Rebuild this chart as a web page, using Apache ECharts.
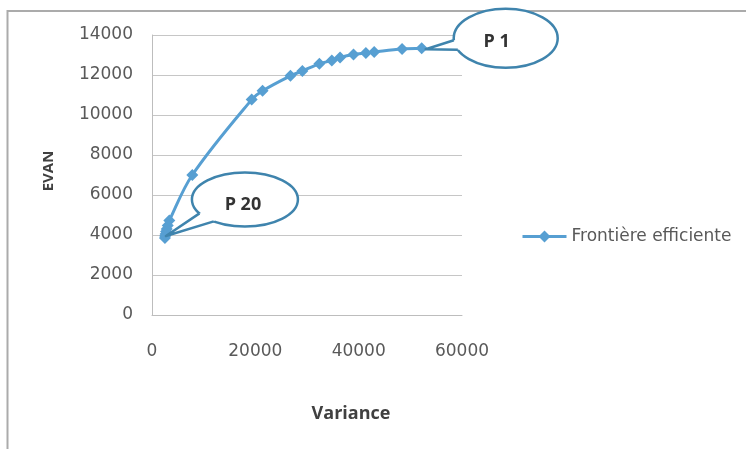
<!DOCTYPE html>
<html>
<head>
<meta charset="utf-8">
<script src="https://cdn.jsdelivr.net/npm/echarts@6/dist/echarts.min.js"></script>
<style>
  html, body { margin: 0; padding: 0; background: #ffffff; }
  #chart { width: 746px; height: 449px; }
</style>
</head>
<body>
<div id="chart"></div>
<script>
// Efficient frontier: portfolios P 1 (highest variance) down to P 20 (minimum variance)
const variance = [52200, 48400, 43000, 41400, 39000, 36400, 34800, 32400, 29100, 26800,
                  21400, 19300, 7800, 3350, 3050, 2850, 2720, 2620, 2550, 2500];
const evan     = [13340, 13300, 13150, 13100, 13030, 12880, 12730, 12560, 12200, 11960,
                  11210, 10770, 7000, 4720, 4480, 4300, 4170, 4050, 3950, 3850];

const seriesName = 'Frontière efficiente';
const xTitle = 'Variance';
const yTitle = 'EVAN';
const xTicks = [0, 20000, 40000, 60000];
const yTicks = [0, 2000, 4000, 6000, 8000, 10000, 12000, 14000];

// Callout labels and the index of the portfolio each one points at
const calloutLabels = ['P 1', 'P 20'];
const calloutIndex = [0, 19];

const lineColor = '#579fd2';
const calloutColor = '#3f84ad';
const tickFont = 'DejaVu Sans';

const chart = echarts.init(document.getElementById('chart'), null, { renderer: 'canvas' });

const points = variance.map((v, i) => [v, evan[i]]);

chart.setOption({
  backgroundColor: '#ffffff',
  animation: false,
  grid: { left: 152, right: 284, top: 35, bottom: 134, containLabel: false },
  legend: {
    data: [seriesName],
    left: 521,
    top: 228,
    padding: 0,
    orient: 'vertical',
    itemWidth: 44,
    itemHeight: 15,
    itemGap: 5,
    lineStyle: { width: 3 },
    textStyle: { fontFamily: tickFont, fontSize: 17, color: '#595959' }
  },
  xAxis: {
    type: 'value',
    min: xTicks[0],
    max: xTicks[xTicks.length - 1],
    interval: xTicks[1] - xTicks[0],
    name: xTitle,
    nameLocation: 'middle',
    nameGap: 90,
    nameTextStyle: { fontFamily: 'Open Sans', fontWeight: 'bold', fontSize: 18, color: '#404040', padding: [0, 0, 0, 88] },
    axisLine: { show: true, lineStyle: { color: '#bdbdbd', width: 1 } },
    axisTick: { show: false },
    splitLine: { show: false },
    axisLabel: {
      margin: 28,
      fontFamily: tickFont, fontSize: 17, color: '#595959',
      formatter: v => String(v)
    }
  },
  yAxis: {
    type: 'value',
    min: yTicks[0],
    max: yTicks[yTicks.length - 1],
    interval: yTicks[1] - yTicks[0],
    name: yTitle,
    nameLocation: 'middle',
    nameRotate: 90,
    nameGap: 96,
    nameTextStyle: { fontFamily: 'Open Sans', fontWeight: 'bold', fontSize: 15, color: '#404040', padding: [0, 0, 0, 8] },
    axisLine: { show: true, lineStyle: { color: '#bdbdbd', width: 1 } },
    axisTick: { show: false },
    splitLine: { show: true, lineStyle: { color: '#c6c6c6', width: 1 } },
    axisLabel: {
      margin: 19,
      fontFamily: tickFont, fontSize: 17, color: '#595959',
      formatter: v => String(v)
    }
  },
  series: [{
    name: seriesName,
    type: 'line',
    data: points,
    smooth: 0.35,
    symbol: 'diamond',
    symbolSize: 12,
    lineStyle: { color: lineColor, width: 3 },
    itemStyle: { color: lineColor },
    z: 3
  }]
});

// Speech-bubble callouts anchored on their portfolio's pixel position
function callout(label, dataPoint, o) {
  const p = chart.convertToPixel({ gridIndex: 0 }, dataPoint);
  const cx = p[0] + o.dx, cy = p[1] + o.dy;
  const tip = [p[0] + o.tip[0], p[1] + o.tip[1]];
  const base = o.angles.map(a => [
    cx + o.rx * Math.cos(a * Math.PI / 180),
    cy + o.ry * Math.sin(a * Math.PI / 180)
  ]);
  return [
    { type: 'ellipse', z: 100, shape: { cx, cy, rx: o.rx, ry: o.ry },
      style: { fill: '#ffffff', stroke: calloutColor, lineWidth: 2.5 } },
    { type: 'polygon', z: 101, shape: { points: [base[0], tip, base[1], [cx, cy]] },
      style: { fill: '#ffffff' } },
    { type: 'polyline', z: 102, shape: { points: [base[0], tip, base[1]] },
      style: { stroke: calloutColor, lineWidth: 2.5, fill: null, lineJoin: 'round' } },
    { type: 'text', z: 103, x: cx + o.tx, y: cy + o.ty,
      style: { text: label, font: 'bold 18px "Open Sans"', fill: '#333333',
               align: 'center', verticalAlign: 'middle' } }
  ];
}

const calloutShapes = [
  { dx: 84, dy: -10, rx: 52, ry: 29.5, angles: [176, 157], tip: [4, 1], tx: -9, ty: 3.5 },
  { dx: 80, dy: -38.5, rx: 53, ry: 27, angles: [149, 126], tip: [1, -2], tx: -2, ty: 5.5 }
];

const elements = [
  // chart frame
  { type: 'rect', z: 0, shape: { x: 7.5, y: 11, width: 800, height: 500 },
    style: { fill: null, stroke: '#ababab', lineWidth: 2 } }
];
calloutLabels.forEach((lab, k) => {
  elements.push(...callout(lab, points[calloutIndex[k]], calloutShapes[k]));
});

chart.setOption({ graphic: { elements } });
</script>
</body>
</html>
